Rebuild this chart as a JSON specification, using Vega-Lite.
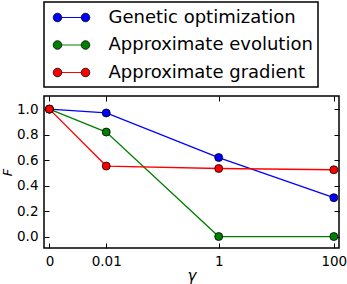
{
  "$schema": "https://vega.github.io/schema/vega-lite/v6.json",
  "width": 295,
  "height": 152,
  "autosize": {"type": "none"},
  "padding": {"left": 44, "top": 96, "right": 8, "bottom": 36},
  "data": {"values": [
    {"series": "Genetic optimization", "gamma": 0, "F": 1.0},
    {"series": "Genetic optimization", "gamma": 0.01, "F": 0.97},
    {"series": "Genetic optimization", "gamma": 1, "F": 0.62},
    {"series": "Genetic optimization", "gamma": 100, "F": 0.305},
    {"series": "Approximate evolution", "gamma": 0, "F": 1.0},
    {"series": "Approximate evolution", "gamma": 0.01, "F": 0.82},
    {"series": "Approximate evolution", "gamma": 1, "F": 0.0},
    {"series": "Approximate evolution", "gamma": 100, "F": 0.0},
    {"series": "Approximate gradient", "gamma": 0, "F": 1.0},
    {"series": "Approximate gradient", "gamma": 0.01, "F": 0.553},
    {"series": "Approximate gradient", "gamma": 1, "F": 0.534},
    {"series": "Approximate gradient", "gamma": 100, "F": 0.524}
  ]},
  "config": {
    "font": "DejaVu Sans",
    "view": {"stroke": "black", "strokeWidth": 1.5},
    "axis": {
      "grid": false, "domain": false, "tickColor": "black", "tickWidth": 1, "tickSize": 5,
      "labelColor": "black", "labelFont": "DejaVu Sans", "labelFontSize": 13.5,
      "titleFont": "DejaVu Sans", "titleFontStyle": "italic", "titleFontWeight": "normal",
      "titleColor": "black", "titleFontSize": 15
    }
  },
  "resolve": {"axis": {"x": "independent", "y": "independent"}},
  "layer": [
    {
      "mark": {"type": "line", "strokeWidth": 1.3},
      "encoding": {
        "x": {"field": "gamma", "type": "quantitative",
          "scale": {"type": "symlog", "constant": 0.00115, "domain": [-0.00028, 123], "nice": false, "zero": false},
          "axis": {"orient": "bottom", "values": [0, 0.01, 1, 100], "labelExpr": "'' + datum.value", "title": "γ",
            "offset": -5, "tickSize": 5, "labelPadding": 6, "titlePadding": 1, "labelFlush": false, "labelOverlap": false}},
        "y": {"field": "F", "type": "quantitative",
          "scale": {"domain": [-0.09, 1.103], "nice": false, "zero": false},
          "axis": {"orient": "left", "values": [0, 0.2, 0.4, 0.6, 0.8, 1.0], "format": ".1f", "title": "F",
            "offset": -5, "tickSize": 5, "labelPadding": 6, "titlePadding": 2, "titleFontSize": 13, "labelFlush": false, "labelOverlap": false}},
        "stroke": {"field": "series", "type": "nominal",
          "scale": {"domain": ["Genetic optimization", "Approximate evolution", "Approximate gradient"], "range": ["#0000ff", "#008000", "#ff0000"]},
          "legend": {"orient": "none", "legendX": 0, "legendY": -94, "title": null,
            "symbolType": "M-0.97,0L0.97,0", "symbolSize": 400, "symbolOffset": 12, "symbolStrokeWidth": 1,
            "labelExpr": "''", "labelOffset": 26.5, "labelFont": "DejaVu Sans", "labelFontSize": 18, "labelLimit": 400,
            "rowPadding": 7.5, "padding": 5,
            "encode": {"entries": {"update": {"width": {"value": 284}}}}}}
      }
    },
    {
      "mark": {"type": "point", "filled": true, "size": 64, "stroke": "black", "strokeWidth": 0.8, "opacity": 1},
      "encoding": {
        "x": {"field": "gamma", "type": "quantitative",
          "scale": {"type": "symlog", "constant": 0.00115, "domain": [-0.00028, 123], "nice": false, "zero": false},
          "axis": {"orient": "top", "values": [0, 0.01, 1, 100], "labels": false, "title": null, "offset": -5, "tickSize": 5}},
        "y": {"field": "F", "type": "quantitative",
          "scale": {"domain": [-0.09, 1.103], "nice": false, "zero": false},
          "axis": {"orient": "right", "values": [0, 0.2, 0.4, 0.6, 0.8, 1.0], "labels": false, "title": null, "offset": -5, "tickSize": 5}},
        "fill": {"field": "series", "type": "nominal", "sort": null,
          "scale": {"range": ["#0000ff", "#008000", "#ff0000"]},
          "legend": {"orient": "none", "legendX": 0, "legendY": -94, "title": null,
            "symbolType": "M-1.83,0A0.43,0.43,0,1,0,-0.97,0A0.43,0.43,0,1,0,-1.83,0ZM0.97,0A0.43,0.43,0,1,0,1.83,0A0.43,0.43,0,1,0,0.97,0Z",
            "symbolSize": 400, "symbolOffset": 12, "symbolStrokeColor": "black", "symbolStrokeWidth": 1, "symbolOpacity": 1,
            "labelOffset": 26.5, "labelColor": "black", "labelFont": "DejaVu Sans", "labelFontSize": 18, "labelLimit": 400,
            "rowPadding": 7.5, "padding": 5, "strokeColor": "black",
            "encode": {"legend": {"update": {"strokeWidth": {"value": 1.5}}},
                       "entries": {"update": {"width": {"value": 284}}},
                       "symbols": {"update": {"stroke": {"value": "black"}, "strokeWidth": {"value": 0.8}}}}}}
      }
    }
  ]
}
